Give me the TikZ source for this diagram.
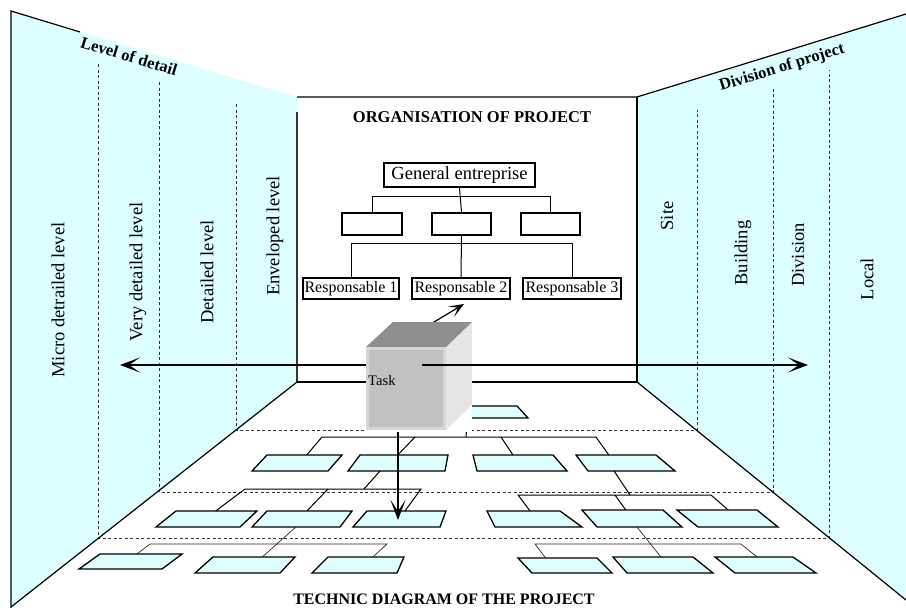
\documentclass[tikz,border=0pt]{standalone}
\usepackage{fontspec}
\setmainfont{Liberation Serif}
\usetikzlibrary{arrows.meta,calc}
\definecolor{wallcyan}{RGB}{222,255,255}
\definecolor{cubeTop}{RGB}{142,142,142}
\definecolor{cubeFront}{RGB}{193,193,193}
\definecolor{cubeRim}{RGB}{214,214,214}
\definecolor{cubeSide}{RGB}{229,229,229}

% floor plate: name, top y, bottom y, x of top-left, top-right, bottom-right, bottom-left
\newcommand\plate[7]{%
  \coordinate (#1-tl) at (#4,#2);
  \coordinate (#1-tr) at (#5,#2);
  \coordinate (#1-br) at (#6,#3);
  \coordinate (#1-bl) at (#7,#3);
  \draw[plate] (#1-tl) -- (#1-tr) -- (#1-br) -- (#1-bl) -- cycle;}

\begin{document}
\begin{tikzpicture}[x=1pt,y=-1pt,
  wall/.style={fill=wallcyan,draw=none},
  edge/.style={line width=1.2pt},
  guide/.style={dash pattern=on 3pt off 2.5pt,line width=0.9pt,draw=black!80},
  orgbox/.style={draw,line width=1.6pt,inner sep=1.5pt,minimum height=21pt},
  link/.style={line width=1pt},
  plate/.style={fill=wallcyan,draw,line width=1.3pt},
  feed/.style={line width=1pt},
  thinfeed/.style={line width=0.7pt,draw=black!85},
  arr/.style={line width=1.2pt,-{Stealth[length=20pt,width=15pt,inset=11pt]}},
  smallarr/.style={line width=1.2pt,-{Stealth[length=15pt,width=12pt,inset=8pt]}},
  vlabel/.style={rotate=90,font=\fontsize{18.5}{20}\selectfont},
  walltitle/.style={font=\bfseries\fontsize{16.5}{18}\selectfont},
  caption/.style={font=\bfseries\fontsize{16}{18}\selectfont}]

\useasboundingbox (0,0) rectangle (906,608);
\clip (0,0) rectangle (906,608);

% side walls
\fill[wall] (11,11) -- (297,97) -- (297,382) -- (11,607) -- (11,620) -- cycle;
\fill[wall] (637,97) -- (906,14) -- (906,600) -- (637,382) -- cycle;

% wall and floor division guides
\draw[guide] (98,64) -- (98,538) -- (829,538) -- (829,70);
\draw[guide] (159,82) -- (159,492) -- (773,492) -- (773,88);
\draw[guide] (236,104) -- (236,430) -- (697,430) -- (697,110);

% room edges
\draw[edge] (11,608) -- (11,11) -- (80,32);
\draw[edge,draw=black!80] (297,112) -- (297,382);
\draw[edge] (297,97) -- (637,97) -- (906,14);
\draw[edge] (637,97) -- (637,382);
\draw[edge] (297,382) -- (637,382);
\draw[edge] (297,382) -- (11,607);
\draw[edge] (637,382) -- (906,600);

% wall titles
\node[walltitle,rotate=-16.7] (lvl) at (129,56) {Level of detail};
\node[walltitle,rotate=17.1] (div) at (782,68) {Division of project};

% left wall labels
\node[vlabel] (micro) at (58,300) {Micro detrailed level};
\node[vlabel] (very) at (138,272) {Very detailed level};
\node[vlabel] (det) at (207,272) {Detailed level};
\node[vlabel] (env) at (275,236) {Enveloped level};
% right wall labels
\node[vlabel] (site) at (667,216) {Site};
\node[vlabel] (bld) at (743,253) {Building};
\node[vlabel] (dvs) at (798,255) {Division};
\node[vlabel] (loc) at (867,279) {Local};

% organisation chart
\node[font=\bfseries\fontsize{16.5}{18}\selectfont] (orgt) at (472,117) {ORGANISATION OF PROJECT};
\node[orgbox,minimum width=151pt,minimum height=24pt,font=\fontsize{18.5}{20}\selectfont] (gen) at (459.5,175) {General entreprise};
\node[orgbox,minimum width=60pt,minimum height=22pt] (m1) at (372,224) {};
\node[orgbox,minimum width=59pt,minimum height=22pt] (m2) at (461.5,224) {};
\node[orgbox,minimum width=59pt,minimum height=22pt] (m3) at (550.5,224) {};
\node[orgbox,minimum width=94pt,font=\fontsize{16}{18}\selectfont] (r1) at (351,288.5) {Responsable 1};
\node[orgbox,minimum width=98pt,font=\fontsize{16}{18}\selectfont] (r2) at (461,288.5) {Responsable 2};
\node[orgbox,minimum width=98pt,font=\fontsize{16}{18}\selectfont] (r3) at (572,288.5) {Responsable 3};
\draw[link] (gen.south) -- (m2.north);
\draw[link] (m1.north) -- ++(0,-16) -| (m3.north);
\draw[link] (m2.south) -- (r2.north);
\draw[link] (r1.north) -- ++(0,-34) -| (r3.north);

% floor plates
\plate{p0}{406}{418}{442}{517}{528}{447}
\plate{pa}{455}{471}{267}{342}{328}{252}
\plate{pb}{455}{471}{360}{448}{445}{348}
\plate{pc}{455}{471}{473}{553}{567}{477}
\plate{pd}{455}{471}{576}{656}{675}{588}
\plate{qa}{511}{527}{176}{257}{240}{156}
\plate{qb}{511}{527}{267}{352}{340}{252}
\plate{qc}{511}{527}{367}{446}{440}{353}
\plate{qd}{511}{527}{487}{560}{582}{495}
\plate{qe}{510}{527}{582}{663}{682}{597}
\plate{qf}{510}{527}{677}{757}{778}{698}
\plate{sa}{554}{569}{100}{182}{162}{79}
\plate{sb}{557}{573}{213}{295}{280}{195}
\plate{sc}{557}{573}{328}{404}{397}{312}
\plate{sd}{558}{573}{518}{597}{612}{532}
\plate{se}{557}{573}{613}{693}{713}{627}
\plate{sf}{557}{573}{715}{793}{816}{735}

% first floor level links
\coordinate (busA1) at (322,437);
\coordinate (busA2) at (415,437);
\coordinate (busA3) at (466,437);
\coordinate (busA4) at (501,437);
\coordinate (busA5) at (596,437);
\draw[feed] ($(pa-tl)!.53!(pa-tr)$) -- (busA1) -- (busA5) -- ($(pd-tl)!.41!(pd-tr)$);
\draw[feed] (busA2) -- ($(pb-tl)!.43!(pb-tr)$);
\draw[feed] (busA4) -- ($(pc-tl)!.5!(pc-tr)$);
\draw[feed] ($(p0-bl)!.25!(p0-br)$) -- (busA3);

% second floor level links
\coordinate (busB1) at (245,489);
\coordinate (busB2) at (328,489);
\coordinate (busB3) at (364,489);
\coordinate (busB4) at (421,489);
\draw[feed] ($(qa-tl)!.49!(qa-tr)$) -- (busB1) -- (busB4) -- ($(qc-tl)!.48!(qc-tr)$);
\draw[feed] (busB2) -- ($(qb-tl)!.47!(qb-tr)$);
\draw[feed] (busB3) -- ($(pb-bl)!.33!(pb-br)$);
\coordinate (busC1) at (518,495);
\coordinate (busC2) at (615,495);
\coordinate (busC3) at (630,495);
\coordinate (busC4) at (711,495);
\draw[feed] ($(qd-tl)!.59!(qd-tr)$) -- (busC1) -- (busC4) -- ($(qf-tl)!.64!(qf-tr)$);
\draw[feed] (busC2) -- ($(qe-tl)!.54!(qe-tr)$);
\draw[feed] (busC3) -- ($(pd-bl)!.3!(pd-br)$);

% third floor level links
\coordinate (busD1) at (150,544);
\coordinate (busD2) at (387,544);
\draw[thinfeed] ($(sa-tl)!.45!(sa-tr)$) -- (busD1) -- (busD2) -- ($(sc-tl)!.59!(sc-tr)$);
\draw[thinfeed] ($(qb-bl)!.5!(qb-br)$) -- ($(sb-tl)!.6!(sb-tr)$);
\coordinate (busE1) at (535,544);
\coordinate (busE2) at (741,544);
\draw[thinfeed] ($(sd-tl)!.35!(sd-tr)$) -- (busE1) -- (busE2) -- ($(sf-tl)!.54!(sf-tr)$);
\draw[thinfeed] ($(qe-bl)!.47!(qe-br)$) -- ($(se-tl)!.6!(se-tr)$);

% task arrows behind the cube
\coordinate (hub) at (422,365);
\coordinate (westTip) at (120,365);
\coordinate (eastTip) at (808,365);
\coordinate (upFoot) at (429,325);
\coordinate (upTip) at (464,304);
\coordinate (downFoot) at (398,400);
\coordinate (downTip) at (398,520);
\draw[arr] (hub) -- (westTip);
\draw[smallarr] (upFoot) -- (upTip);
\draw[arr] (downFoot) -- (downTip);

% task cube
\fill[white] (366,322) rectangle (472,432);
\fill[cubeSide] (446,347) -- (472,322) -- (472,405) -- (446,430) -- cycle;
\fill[cubeTop] (366,347) -- (393,322) -- (472,322) -- (446,347) -- cycle;
\fill[cubeRim] (366,347) rectangle (446,430);
\fill[cubeFront] (369,350) rectangle (443,427);
\node[anchor=west,inner sep=0pt,font=\fontsize{14.6}{16}\selectfont] (task) at (368,381) {Task};
\draw[arr] (hub) -- (eastTip);

% floor caption
\node[caption,anchor=base] (tech) at (444,604) {TECHNIC DIAGRAM OF THE PROJECT};
\end{tikzpicture}
\end{document}
